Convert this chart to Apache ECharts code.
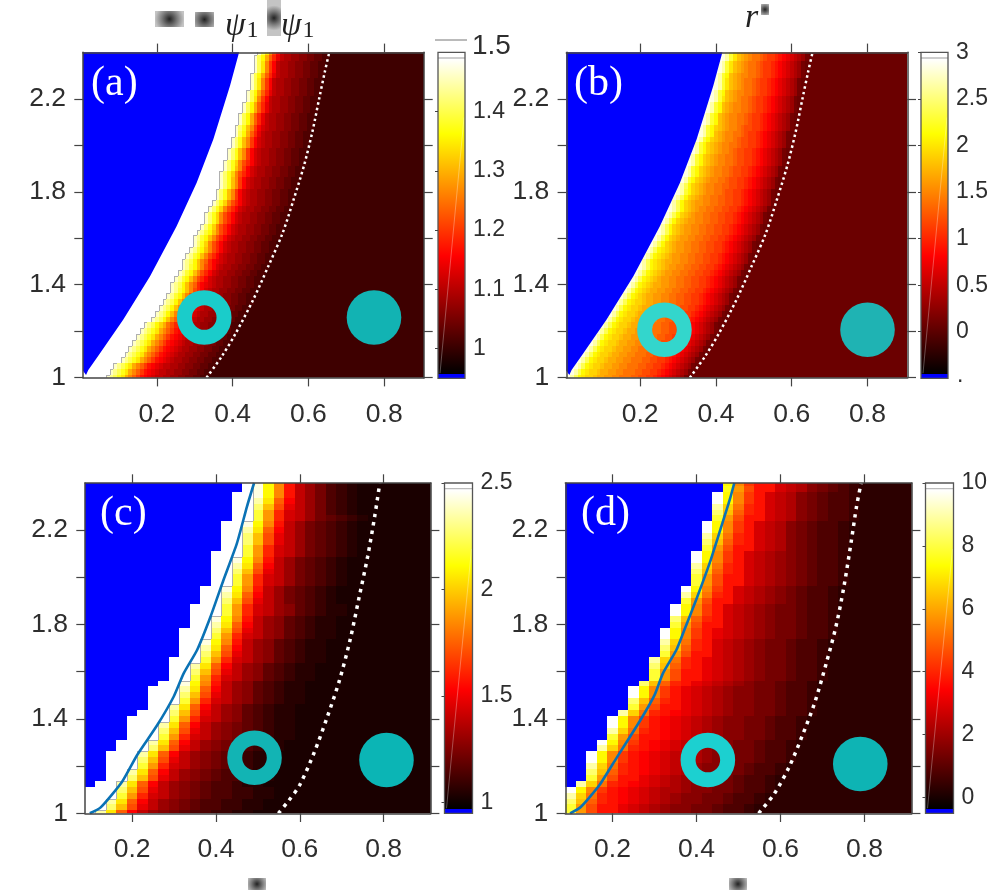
<!DOCTYPE html>
<html>
<head>
<meta charset="utf-8">
<script src="https://cdn.jsdelivr.net/npm/echarts@6/dist/echarts.min.js"></script>
<style>html,body{margin:0;background:#fff}#main{width:993px;height:893px}</style>
</head>
<body>
<div id="main"></div>
<script>
// colour codes in the strings below: 0-9a-z, 0 = bottom of the colour scale, z = top
var at = '998877665544';
var a27 = 'xvtrpmkigedcbaa' + at, a26 = 'xvtrpmkigedcba' + at, a25 = 'xvtqomjhfdcba' + at, a24 = 'xvtqnkifdcba' + at, a23 = 'xvsqnkhfdba' + at,
    a22 = 'xurokhfdba' + at, a21 = 'xurnkgdba' + at, a20 = 'xtqmifca' + at, a19 = 'xtpkgda' + at;
var startA = [6,7,8,10,11,12,13,14,15,16,18,19,20,21,22,23,23,24,25,26,26,27,28,29,29,30,31,32,32,33,34,35,35,36,36,36,37,37,38,38,39,39,40,40,41,41,42,42,43,43,44,44,44,45,45,45,46];
var rowsA = [a27,a27,a27,a26,a26,a26,a26,a26,a26,a25,a24,a24,a24,a24,a23,a23,a24,a23,a23,a23,a24,a23,a23,a22,a23,a23,a22,a22,a22,a22,
    a22,a21,a21,a21,a21,a22,a21,a22,a21,a21,a21,a21,a20,a21,a20,a20,a20,a20,a19,a20,a19,a19,a20,a19,a19,a20,a19];

var bt = 'edcba986';
var b32 = 'ywtqpoonmmllkkjjjiihhggf' + bt, b31 = 'ywtqpoonmmllkkjjiihhggf' + bt, b30 = 'ywtqponmmllkkjjiihhggf' + bt, b29 = 'ywtqponmllkkjjiihhggf' + bt,
    b28 = 'ywtqonmllkkjjiihhggf' + bt, b27 = 'ywtqonmlkkjjiihhggf' + bt, b26 = 'ywsqonmlkkjjihhggf' + bt, b25 = 'ywsqonmlkkjihhggf' + bt,
    b24 = 'ywsqnmlkkjjihggf' + bt, b23 = 'ywspnmlkjjihggf' + bt;
var startB = [0,1,2,3,4,5,6,7,8,9,10,11,12,13,14,15,16,17,18,19,19,20,21,22,23,24,24,25,26,27,27,28,29,29,30,31,31,32,32,33,33,34,35,35,36,36,37,37,38,38,39,39,39,40,40,41,41];
var rowsB = [b32,b32,b32,b32,b32,b32,b32,b32,b32,b31,b31,b31,b31,b31,b30,b30,b30,b29,b29,b29,b30,b29,b29,b28,b28,b28,b28,b28,b27,b27,
    b28,b27,b26,b27,b26,b26,b26,b26,b26,b25,b26,b25,b24,b25,b24,b24,b24,b24,b23,b24,b23,b23,b24,b23,b23,b23,b23];

var blueSteps = [0,0,0,0,0,1,2,2,2,2,2,3,3,4,4,4,4,5,6,6,6,6,7,8,8,8,8,9,9,9,9,9,10,10,10,10,11,11,11,12,12,12,12,12,12,13,13,13,13,13,14,14,14,14,14,15,15];

var cS = 'slfb', cU = 'unhc', cW = 'wpid', cY = 'yqke';
var c11 = 'a8765443322', c10 = 'a876544322', c9 = 'a87654322', c8 = 'a8754322', c7 = 'a865432', c6 = 'a86432';
var startC = [1,2,2,3,3,3,4,4,5,5,5,6,6,7,7,7,8,8,8,9,9,9,9,10,10,10,11,11,11,11,12,12,12,12,13,13,13,13,13,14,14,14,14,14,15,15,15,15,15,15,16,16,16,16,16,16,16];
var rowsC = [cW+c11,cU+c11,cW+c11,cS+c11,cU+c11,cW+c10,cU+c10,cW+c10,cS+c9,cU+c9,cW+c9,cU+c9,cW+c9,cS+c9,cU+c9,cW+c9,
    cS+c8,cU+c8,cW+c8,cS+c8,cU+c8,cW+c8,cY+c8,cS+c8,cU+c8,cW+c8,cS+c8,cU+c8,cW+c8,cY+c8,cS+c8,cU+c8,cW+c8,cY+c8,cS+c8,cS+c8,
    cU+c7,cW+c7,cY+c7,cS+c7,cS+c7,cU+c7,cW+c7,cY+c7,cS+c7,cS+c7,cU+c7,cU+c7,cW+c7,cY+c7,cS+c7,cS+c6,cU+c6,cW+c6,cY+c6,cY+c6,cY+c6];

var dS = 'slhe', dU = 'unif', dW = 'wojf', dZ = 'zqkg';
var d16 = 'edcba99877665443', d15 = 'edcba9877665443', d14 = 'ecba9877665443', d13 = 'ecba987665443', d12 = 'eba987665443',
    d11 = 'eba98765443', d10 = 'eba9765443', d9 = 'eba976543';
var rowsD = [dS+d14,dS+d14,dU+d15,dW+d15,dZ+d16,dW+d15,dS+d14,dU+d15,dW+d15,dZ+d16,dZ+d16,dW+d15,dZ+d15,dS+d15,dW+d15,dZ+d15,dZ+d15,dW+d15,
    dS+d14,dU+d14,dZ+d14,dZ+d14,dU+d13,dS+d13,dS+d13,dU+d13,dW+d13,dS+d12,dU+d12,dW+d12,dZ+d13,dZ+d13,dS+d12,dU+d12,dZ+d12,dZ+d12,
    dS+d11,dW+d11,dZ+d11,dS+d11,dS+d11,dU+d11,dW+d11,dZ+d11,dZ+d11,dS+d10,dU+d10,dW+d10,dZ+d10,dZ+d10,dS+d10,dU+d10,dW+d10,dZ+d10,dZ+d10,'rlhe'+d9,'qkge'+d9];

// blue edge shared by (a) and (b), x then y
var edgeAB = [[.417,2.4],[.393,2.256],[.349,2.026],[.305,1.839],[.252,1.652],[.182,1.436],[.111,1.249],[.05,1.105],[.019,1.033],[.013,1.012],[.005,1.03]];

var dotsAB = [[.331,1],[.371,1.091],[.408,1.191],[.454,1.335],[.494,1.479],[.532,1.623],[.561,1.767],[.588,1.911],[.61,2.055],[.628,2.198],[.643,2.314],[.655,2.4]];
var dotsC = [[.549,1],[.572,1.05],[.6,1.12],[.635,1.26],[.666,1.41],[.695,1.565],[.72,1.734],[.742,1.918],[.762,2.088],[.779,2.26],[.791,2.4]];
var dotsD = [[.548,1],[.586,1.085],[.621,1.198],[.651,1.325],[.681,1.466],[.709,1.636],[.732,1.791],[.751,1.96],[.769,2.158],[.781,2.299],[.792,2.4]];
var lineC = [[.099,1],[.125,1.025],[.176,1.134],[.212,1.247],[.26,1.374],[.299,1.494],[.323,1.593],[.355,1.692],[.387,1.833],[.418,1.989],[.45,2.144],[.474,2.3],[.491,2.4]];
var lineD = [[.099,1],[.125,1.028],[.169,1.12],[.209,1.233],[.264,1.388],[.3,1.501],[.32,1.593],[.352,1.692],[.371,1.777],[.399,1.904],[.431,2.059],[.459,2.215],[.479,2.328],[.49,2.4]];

var xTicks = [.2,.4,.6,.8], yTicks = [1,1.2,1.4,1.6,1.8,2,2.2], yLabels = [1,1.4,1.8,2.2];

var panels = [
  {name:'(a)', rows:rowsA, start:startA, blue:null, stair:true, x0:.01, dx:.01, clim:[.95,1.5], bg:1.0, edge:edgeAB, dots:dotsAB, line:null, dotW:2.5, dash:[2.5,3],
   ring:[.325,1.259], ringColor:'#1accca', disk:[.773,1.259], diskColor:'#12b3b3',
   box:{left:83,top:52.3,width:341,height:325.4}, xr:[.005,.905], bar:{left:438,top:52.3,width:27,height:326},
   cbTicks:[1,1.1,1.2,1.3,1.4], cbLabels:[1,1.1,1.2,1.3,1.4], lx:91, ly:84},
  {name:'(b)', rows:rowsB, start:startB, blue:null, stair:false, x0:.01, dx:.01, clim:[-.5,3], bg:.05, edge:edgeAB, dots:dotsAB, line:null, dotW:2.5, dash:[2.5,3],
   ring:[.264,1.206], ringColor:'#33d6cc', disk:[.8,1.206], diskColor:'#1fb3b3',
   box:{left:566.3,top:52.3,width:341,height:325.4}, xr:[.005,.905], bar:{left:921,top:52.3,width:27,height:326},
   cbTicks:[0,.5,1,1.5,2,2.5,3], cbLabels:[0,.5,1,1.5,2,2.5,3], lx:574, ly:84},
  {name:'(c)', rows:rowsC, start:startC, blue:blueSteps, stair:true, x0:.1, dx:.025, clim:[.95,2.5], bg:1.01, edge:null, dots:dotsC, line:lineC, dotW:3.5, dash:[3.5,5],
   ring:[.492,1.2355], ringColor:'#12b4b4', disk:[.807,1.226], diskColor:'#0bb5b5',
   box:{left:85,top:483,width:345.7,height:330.3}, xr:[.0875,.9125], bar:{left:444.5,top:483,width:28,height:330.3},
   cbTicks:[1,1.5,2,2.5], cbLabels:[1,1.5,2,2.5], lx:100, ly:514},
  {name:'(d)', rows:rowsD, start:blueSteps, blue:blueSteps, stair:false, x0:.1, dx:.025, clim:[-.5,10], bg:.18, edge:null, dots:dotsD, line:lineD, dotW:3.5, dash:[3.5,5],
   ring:[.427,1.226], ringColor:'#1cd0d0', disk:[.79,1.209], diskColor:'#0eb4b4',
   box:{left:565.3,top:483,width:346.4,height:330.3}, xr:[.0875,.9125], bar:{left:925.5,top:483,width:28,height:330.3},
   cbTicks:[0,2,4,6,8,10], cbLabels:[0,2,4,6,8,10], lx:581, ly:514}
];

var hotStops = ['#000000','#ff0000','#ffff00','#ffffff'];
function hot(t) {
  if (t < .375) return echarts.color.lerp(t / .375, hotStops.slice(0, 2));
  if (t < .75) return echarts.color.lerp((t - .375) / .375, hotStops.slice(1, 3));
  return echarts.color.lerp((t - .75) / .25, hotStops.slice(2));
}
function cellColor(v, clim) {
  if (v < clim[0]) return '#0000ff';
  if (v > clim[1]) return '#ffffff';
  return hot((v - clim[0]) / (clim[1] - clim[0]));
}
function panelData(p) {
  var out = [], span = p.clim[1] - p.clim[0], cols = Math.round((p.xr[1] - p.xr[0]) / p.dx);
  p.rows.forEach(function (str, k) {
    for (var i = 0; i < cols; i++) {
      var j = i - p.start[k], v = p.bg, edge = 0;
      if (p.blue && i < p.blue[k]) v = p.clim[0] - 1;
      else if (j < 0) v = p.clim[1] + 1;
      else if (j < str.length) v = p.clim[0] + parseInt(str[j], 36) / 35 * span;
      if (p.stair && j === 0) edge = k + 1 < p.rows.length && p.start[k + 1] > p.start[k] ? 2 : 1;
      out.push([p.x0 + p.dx * i, 1 + .025 * k, v, edge]);
    }
  });
  return out;
}
function cellItem(p) {
  return function (params, api) {
    var x = api.value(0), y = api.value(1), edge = api.value(3);
    var a = api.coord([x - p.dx / 2, y + .0125]), b = api.coord([x + p.dx / 2, y - .0125]);
    var r = {x: Math.round(a[0]), y: Math.round(a[1])};
    r.width = Math.round(b[0]) - r.x; r.height = Math.round(b[1]) - r.y;
    var c = params.coordSys;
    var shape = echarts.graphic.clipRectByRect(r, {x: c.x, y: c.y, width: c.width, height: c.height});
    if (!shape) return null;
    var rect = {type: 'rect', shape: shape, style: {fill: cellColor(api.value(2), p.clim)}};
    if (!edge) return rect;
    var kids = [rect, {type: 'line', shape: {x1: shape.x + .5, y1: shape.y, x2: shape.x + .5, y2: shape.y + shape.height}, style: {stroke: '#b0b0b0', lineWidth: 1}}];
    if (edge === 2) kids.push({type: 'line', shape: {x1: shape.x, y1: shape.y + .5, x2: shape.x + shape.width, y2: shape.y + .5}, style: {stroke: '#b0b0b0', lineWidth: 1}});
    return {type: 'group', children: kids};
  };
}
function edgeItem(p) {
  return function (params, api) {
    var pts = p.edge.concat([[p.xr[0], 2.4]]).map(function (d) { return api.coord(d); });
    return {type: 'polygon', shape: {points: pts}, style: {fill: '#0000ff'}};
  };
}
function barItem(p) {
  return function (params, api) {
    var c = params.coordSys;
    var fill = new echarts.graphic.LinearGradient(0, 1, 0, 0, [
      {offset: 0, color: '#0000ff'}, {offset: .013, color: '#0000ff'}, {offset: .013, color: '#000000'},
      {offset: .375, color: '#ff0000'}, {offset: .75, color: '#ffff00'}, {offset: .98, color: '#ffffff'},
      {offset: .982, color: '#999999'}, {offset: .986, color: '#ffffff'}, {offset: 1, color: '#ffffff'}]);
    return {type: 'group', children: [
      {type: 'rect', shape: {x: c.x, y: c.y, width: c.width, height: c.height}, style: {fill: fill}},
      {type: 'line', shape: {x1: c.x + 2, y1: c.y + c.height - 5, x2: c.x + c.width - 1, y2: c.y + c.height * .2}, style: {stroke: 'rgba(255,255,255,.3)', lineWidth: 1}},
      {type: 'rect', shape: {x: c.x, y: c.y, width: c.width, height: c.height}, style: {fill: 'none', stroke: '#555', lineWidth: 1.3}}
    ]};
  };
}

var ink = '#2e2e2e', frame = '#444', sans = '"Liberation Sans"';
var grid = [], xAxis = [], yAxis = [], series = [];
function fmt(v) { return String(v); }

panels.forEach(function (p, n) {
  var g = grid.length, xi = xAxis.length, yi = yAxis.length;
  grid.push(p.box);
  var line = {lineStyle: {color: frame, width: 1.5}, onZero: false};
  var tick = {length: 8.7, lineStyle: {color: frame, width: 1.2}};
  xAxis.push({type: 'value', gridIndex: g, min: p.xr[0], max: p.xr[1], position: 'bottom', splitLine: {show: false}, axisLine: line,
    axisTick: Object.assign({customValues: xTicks}, tick),
    axisLabel: {customValues: xTicks, formatter: fmt, margin: 23, color: ink, fontSize: 26.5, fontFamily: sans}, z: 6});
  xAxis.push({type: 'value', gridIndex: g, min: p.xr[0], max: p.xr[1], position: 'top', splitLine: {show: false}, axisLine: line,
    axisTick: Object.assign({customValues: xTicks}, tick), axisLabel: {show: false}, z: 6});
  yAxis.push({type: 'value', gridIndex: g, min: 1, max: 2.4, position: 'left', splitLine: {show: false}, axisLine: line,
    axisTick: Object.assign({customValues: yTicks}, tick),
    axisLabel: {customValues: yLabels, formatter: fmt, margin: 17, color: ink, fontSize: 26.5, fontFamily: sans, padding: [3, 0, 0, 0]}, z: 6});
  yAxis.push({type: 'value', gridIndex: g, min: 1, max: 2.4, position: 'right', splitLine: {show: false}, axisLine: line,
    axisTick: Object.assign({customValues: yTicks}, tick), axisLabel: {show: false}, z: 6});

  series.push({type: 'custom', xAxisIndex: xi, yAxisIndex: yi, data: panelData(p), renderItem: cellItem(p), silent: true, progressive: 0, z: 1});
  if (p.edge) series.push({type: 'custom', xAxisIndex: xi, yAxisIndex: yi, data: [0], renderItem: edgeItem(p), silent: true, z: 2});
  if (p.line) series.push({type: 'line', xAxisIndex: xi, yAxisIndex: yi, data: p.line, symbol: 'none', smooth: .2, lineStyle: {color: '#0a72b5', width: 2.6}, silent: true, z: 3});
  series.push({type: 'line', xAxisIndex: xi, yAxisIndex: yi, data: p.dots, symbol: 'none', smooth: .3, lineStyle: {color: '#fff', width: p.dotW, type: p.dash}, silent: true, z: 3});
  series.push({type: 'scatter', xAxisIndex: xi, yAxisIndex: yi, data: [p.ring], symbolSize: 39.6, itemStyle: {color: 'rgba(0,0,0,0)', borderColor: p.ringColor, borderWidth: 15, opacity: 1}, silent: true, z: 4});
  series.push({type: 'scatter', xAxisIndex: xi, yAxisIndex: yi, data: [p.disk], symbolSize: 54.6, itemStyle: {color: p.diskColor, opacity: 1}, silent: true, z: 4});

  // colour bar
  var gb = grid.length, xb = xAxis.length, yb = yAxis.length;
  grid.push(p.bar);
  xAxis.push({type: 'value', gridIndex: gb, min: 0, max: 1, show: false});
  yAxis.push({type: 'value', gridIndex: gb, min: p.clim[0], max: p.clim[1], position: 'right', splitLine: {show: false},
    axisLine: {show: false}, axisTick: {customValues: p.cbTicks, inside: true, length: 3, lineStyle: {color: frame, width: 1}},
    axisLabel: {customValues: p.cbLabels, formatter: fmt, margin: 8, color: ink, fontSize: 23, fontFamily: sans, showMinLabel: true, showMaxLabel: true, padding: [4, 0, 0, 0]}, z: 6});
  series.push({type: 'custom', xAxisIndex: xb, yAxisIndex: yb, data: [[0, p.clim[0]]], renderItem: barItem(p), silent: true, z: 2});
});

function blot(x, y, w, h) {
  return {type: 'rect', shape: {x: x, y: y, width: w, height: h}, style: {
    fill: new echarts.graphic.RadialGradient(.5, .5, .9, [{offset: 0, color: '#222'}, {offset: .5, color: '#777'}, {offset: 1, color: '#c4c4c4'}])}, z: 20};
}
function psi(x) {
  return {type: 'text', x: x, y: 26, z: 20, style: {text: '{a|ψ}{b|1}', rich: {
    a: {font: 'italic 33px "Liberation Serif"', fill: '#222'}, b: {font: '24px "Liberation Serif"', fill: '#222', padding: [10, 0, 0, 1]}},
    verticalAlign: 'middle'}};
}
var graphic = [
  blot(155, 11, 29, 16), blot(195, 12, 19, 15), blot(267, 0, 14, 36), psi(225), psi(281),
  {type: 'text', x: 745, y: 18, z: 20, style: {text: 'r', font: 'italic 34px "Liberation Serif"', fill: '#222', verticalAlign: 'middle'}},
  blot(761, 4, 8, 11), blot(248, 878, 18, 12), blot(729, 878, 18, 12),
  {type: 'line', shape: {x1: 435, y1: 40, x2: 467, y2: 40}, style: {stroke: '#777', lineWidth: 1}, z: 20},
  {type: 'text', x: 472, y: 46, z: 20, style: {text: '1.5', font: '28px "Liberation Sans"', fill: ink, verticalAlign: 'middle'}},
  {type: 'text', x: 957, y: 376, z: 20, style: {text: '.', font: '23px "Liberation Sans"', fill: ink, verticalAlign: 'middle'}}
];
panels.forEach(function (p) {
  graphic.push({type: 'text', x: p.lx, y: p.ly, z: 20, style: {text: p.name, font: '42px "Liberation Serif"', fill: '#fff', verticalAlign: 'middle'}});
});

var myChart = echarts.init(document.getElementById('main'), null, {renderer: 'canvas'});
myChart.setOption({animation: false, backgroundColor: '#fff', grid: grid, xAxis: xAxis, yAxis: yAxis, series: series, graphic: graphic});
</script>
</body>
</html>
